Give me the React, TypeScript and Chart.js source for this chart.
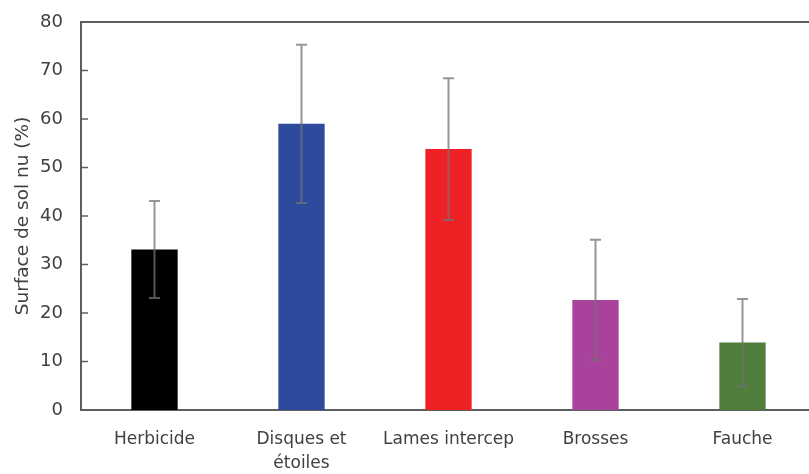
import React, { useEffect, useRef } from "react";
import { Chart, registerables } from "chart.js";

Chart.register(...registerables);

const categories: (string | string[])[] = ["Herbicide", ["Disques et", "étoiles"], "Lames intercep", "Brosses", "Fauche"];
const values = [33.1, 59.0, 53.8, 22.7, 13.9];
const errors = [10.0, 16.3, 14.6, 12.4, 9.0];
const barColors = ["#000000", "#2E4A9C", "#EE2225", "#A8429B", "#4F7F3B"];
const yTicks = [0, 10, 20, 30, 40, 50, 60, 70, 80];
const yTitle = "Surface de sol nu (%)";

const FONT = "'DejaVu Sans', sans-serif";

const decorPlugin = {
  id: "decor",
  afterDatasetsDraw(chart: any) {
    const { ctx, chartArea, scales } = chart;
    const x = scales.x;
    const y = scales.y;
    ctx.save();
    ctx.strokeStyle = "#5e5e5e";
    ctx.lineWidth = 2;
    ctx.beginPath();
    ctx.moveTo(chartArea.left, chartArea.top);
    ctx.lineTo(chartArea.right, chartArea.top);
    ctx.stroke();
    ctx.lineWidth = 1.5;
    yTicks.forEach((t) => {
      const py = y.getPixelForValue(t);
      ctx.beginPath();
      ctx.moveTo(chartArea.left, py);
      ctx.lineTo(chartArea.left + 7, py);
      ctx.stroke();
    });
    ctx.strokeStyle = "rgba(115,115,115,0.75)";
    ctx.lineWidth = 2;
    values.forEach((v, i) => {
      const px = x.getPixelForValue(i);
      const top = y.getPixelForValue(v + errors[i]);
      const bot = y.getPixelForValue(v - errors[i]);
      ctx.beginPath();
      ctx.moveTo(px, top);
      ctx.lineTo(px, bot);
      ctx.moveTo(px - 5.5, top);
      ctx.lineTo(px + 5.5, top);
      ctx.moveTo(px - 5.5, bot);
      ctx.lineTo(px + 5.5, bot);
      ctx.stroke();
    });
    ctx.restore();
  },
};

export default function App() {
  const ref = useRef<HTMLCanvasElement>(null);
  useEffect(() => {
    document.body.style.margin = "0";
    document.body.style.overflow = "hidden";
    const chart = new Chart(ref.current!, {
      type: "bar",
      data: {
        labels: categories as any,
        datasets: [
          {
            data: values,
            backgroundColor: barColors,
            barPercentage: 0.315,
            categoryPercentage: 1,
          },
        ],
      },
      options: {
        animation: false,
        responsive: false,
        layout: { padding: { top: 22, right: 0, left: 12, bottom: 0 } },
        plugins: { legend: { display: false }, tooltip: { enabled: false } },
        scales: {
          x: {
            grid: { display: false, drawTicks: false },
            border: { display: true, color: "#5e5e5e", width: 2 },
            ticks: {
              color: "#404040",
              font: { family: FONT, size: 17, lineHeight: 1.45 },
              padding: 17,
              maxRotation: 0,
              autoSkip: false,
            },
            afterFit: (s: any) => {
              s.height = 64;
            },
          },
          y: {
            min: 0,
            max: 80,
            grid: { display: false, drawTicks: false },
            border: { display: true, color: "#5e5e5e", width: 2 },
            ticks: {
              stepSize: 10,
              color: "#404040",
              font: { family: FONT, size: 18 },
              padding: 18,
            },
            title: {
              display: true,
              text: yTitle,
              color: "#404040",
              font: { family: FONT, size: 18.5 },
              padding: { top: 0, bottom: 6 },
            },
            afterFit: (s: any) => {
              s.width = 69;
              s.paddingTop = 0;
              s.paddingBottom = 0;
            },
          },
        },
      },
      plugins: [decorPlugin],
    });
    return () => chart.destroy();
  }, []);
  return (
    <div style={{ width: 816, height: 474 }}>
      <canvas ref={ref} width={816} height={474} style={{ display: "block" }} />
    </div>
  );
}
